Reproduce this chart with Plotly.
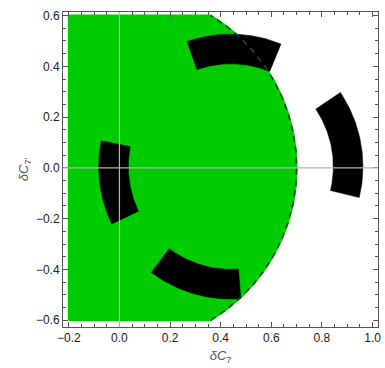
import numpy as np
import plotly.graph_objects as go

# Allowed region (green): x >= x_min, |y| <= y_lim, x^2+y^2 <= r_allowed^2
x_min = -0.2
y_lim = 0.6
r_allowed = 0.7

# Black annular sectors (center, radii, angle ranges in degrees)
ring_center = (0.44, 0.005)
ring_r_in = 0.405
ring_r_out = 0.522
sector_start = [-13.5, 67.7, 168.8, -127.0]
sector_end = [34.0, 109.3, 205.7, -85.7]

x_ticks = [-0.2, 0.0, 0.2, 0.4, 0.6, 0.8, 1.0]
y_ticks = [-0.6, -0.4, -0.2, 0.0, 0.2, 0.4, 0.6]

fig = go.Figure()

# green region polygon
a_max = np.arcsin(y_lim / r_allowed)
arc = np.linspace(-a_max, a_max, 200)
gx = [x_min] + list(r_allowed * np.cos(arc)) + [x_min, x_min]
gy = [-y_lim] + list(r_allowed * np.sin(arc)) + [y_lim, -y_lim]
fig.add_trace(go.Scatter(x=gx, y=gy, fill="toself", fillcolor="#00cc00",
                         mode="lines", line=dict(color="#00cc00", width=2),
                         hoverinfo="skip", showlegend=False))

# black sectors
cx, cy = ring_center
for s, e in zip(sector_start, sector_end):
    t = np.radians(np.linspace(s, e, 80))
    xo = cx + ring_r_out * np.cos(t)
    yo = cy + ring_r_out * np.sin(t)
    xi = cx + ring_r_in * np.cos(t[::-1])
    yi = cy + ring_r_in * np.sin(t[::-1])
    sx = list(xo) + list(xi) + [xo[0]]
    sy = list(yo) + list(yi) + [yo[0]]
    fig.add_trace(go.Scatter(x=sx, y=sy, fill="toself", fillcolor="black",
                             mode="lines", line=dict(color="black", width=0.5),
                             hoverinfo="skip", showlegend=False))

# dashed boundary
fig.add_trace(go.Scatter(x=r_allowed * np.cos(arc), y=r_allowed * np.sin(arc),
                         mode="lines", line=dict(color="#144d14", width=1.6, dash="6px,5px"),
                         hoverinfo="skip", showlegend=False))

# axes lines on top
fig.add_shape(type="line", x0=0, x1=0, y0=0, y1=1, xref="x", yref="paper",
              line=dict(color="#b4b4b4", width=1.2), layer="above")
fig.add_shape(type="line", x0=0, x1=1, y0=0, y1=0, xref="paper", yref="y",
              line=dict(color="#b4b4b4", width=1.2), layer="above")

axis_common = dict(showgrid=False, zeroline=False, ticks="inside", ticklen=5,
                   tickcolor="#555", mirror="allticks", showline=True,
                   linecolor="#555", linewidth=1,
                   tickfont=dict(family="Liberation Sans", size=12, color="#222"),
                   minor=dict(ticks="inside", ticklen=3, tickcolor="#555", dtick=0.05, showgrid=False))

fig.update_xaxes(range=[-0.223, 1.0215], tickvals=x_ticks,
                 ticktext=[f"{v:.1f}".replace("-", "\u2212") for v in x_ticks],
                 title=dict(text="<i>δC</i><sub>7</sub>", standoff=6,
                            font=dict(family="Liberation Sans", size=13, color="#555")),
                 **axis_common)
fig.update_yaxes(range=[-0.627, 0.614], tickvals=y_ticks,
                 ticktext=[f"{v:.1f}".replace("-", "\u2212") for v in y_ticks],
                 title=dict(text="<i>δC</i><sub>7'</sub>", standoff=4,
                            font=dict(family="Liberation Sans", size=13, color="#555")),
                 **axis_common)

fig.update_layout(width=385, height=368, margin=dict(l=63, r=4, t=12, b=41),
                  plot_bgcolor="white", paper_bgcolor="white")

fig.write_html("out.html")
